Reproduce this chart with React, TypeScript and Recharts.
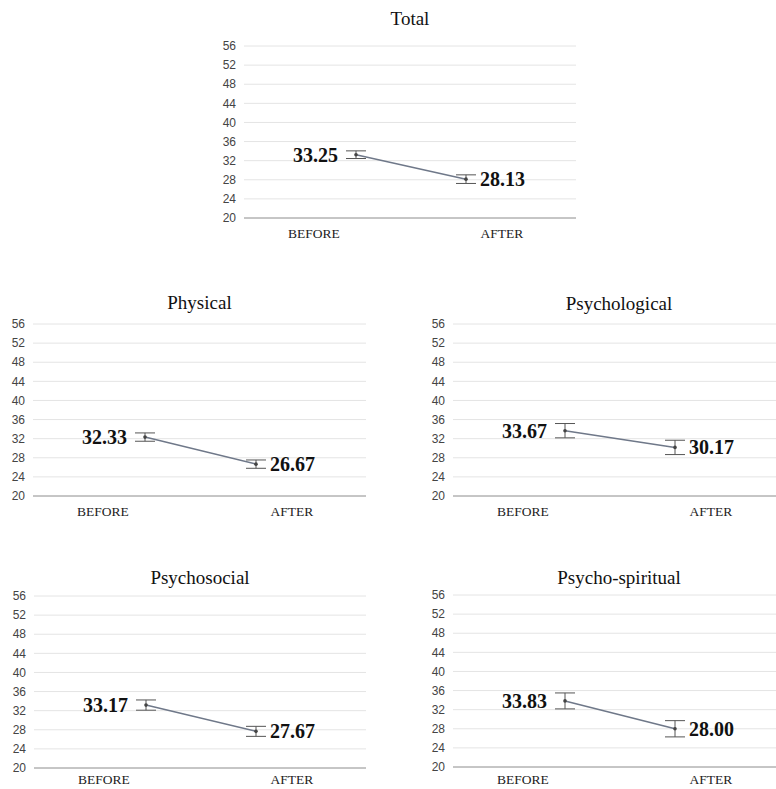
import React from 'react';
import { LineChart, Line, XAxis, YAxis, CartesianGrid, ErrorBar, LabelList } from 'recharts';

const categories = ['BEFORE', 'AFTER'];
const yTicks = [20, 24, 28, 32, 36, 40, 44, 48, 52, 56];

const totalValues = [33.25, 28.13];
const totalErrors = [0.8, 0.9];
const physicalValues = [32.33, 26.67];
const physicalErrors = [0.87, 0.87];
const psychologicalValues = [33.67, 30.17];
const psychologicalErrors = [1.5, 1.5];
const psychosocialValues = [33.17, 27.67];
const psychosocialErrors = [1.07, 1.05];
const spiritualValues = [33.83, 28.0];
const spiritualErrors = [1.67, 1.7];

const buildRows = (values: number[], errors: number[]) =>
  categories.map((c, i) => ({ label: c, value: values[i], err: errors[i] }));

const PLOT_H = 172;
const Y_W = 40;
const X_H = 30;
const M_TOP = 12;

const renderValueLabel = (props: any) => {
  const { x, y, value, index } = props;
  const first = index === 0;
  return (
    <text
      x={first ? x - 18 : x + 14}
      y={y}
      dy="0.35em"
      textAnchor={first ? 'end' : 'start'}
      fontFamily="'Liberation Serif', 'Times New Roman', serif"
      fontWeight="bold"
      fontSize={20}
      fill="#111"
    >
      {Number(value).toFixed(2)}
    </text>
  );
};

type PanelProps = {
  title: string;
  values: number[];
  errors: number[];
  plotLeft: number;
  plotTop: number;
  plotW: number;
  titleBaseline: number;
  labelGap?: number;
};

const Panel = ({ title, values, errors, plotLeft, plotTop, plotW, titleBaseline, labelGap = 10 }: PanelProps) => {
  const rows = buildRows(values, errors);
  return (
    <>
      <div
        style={{
          position: 'absolute',
          left: plotLeft,
          width: plotW,
          top: titleBaseline - 16,
          textAlign: 'center',
          fontFamily: "'Liberation Serif', 'Times New Roman', serif",
          fontSize: 19,
          lineHeight: '19px',
          color: '#111',
          whiteSpace: 'nowrap',
        }}
      >
        {title}
      </div>
      <div style={{ position: 'absolute', left: plotLeft - Y_W, top: plotTop - M_TOP }}>
        <LineChart
          width={Y_W + plotW}
          height={M_TOP + PLOT_H + X_H}
          data={rows}
          margin={{ top: M_TOP, right: 0, bottom: 0, left: 0 }}
        >
          <CartesianGrid xAxisId="lab" vertical={false} stroke="#e4e4e4" />
          <XAxis
            xAxisId="lab"
            dataKey="label"
            type="category"
            padding={{ left: 70, right: 74 }}
            height={X_H}
            tickSize={0}
            tickMargin={labelGap}
            axisLine={{ stroke: '#9a9a9a' }}
            tickLine={false}
            tick={{ fontFamily: "'Liberation Serif', 'Times New Roman', serif", fontSize: 13.5, fill: '#222' }}
          />
          <XAxis xAxisId="pt" dataKey="label" type="category" hide padding={{ left: 112, right: 110 }} />
          <YAxis
            domain={[20, 56]}
            ticks={yTicks}
            width={Y_W}
            axisLine={false}
            tickLine={false}
            tickSize={0}
            tickMargin={8}
            interval={0}
            tick={{ fontFamily: "'Liberation Sans', Arial, sans-serif", fontSize: 12, fill: '#444' }}
          />
          <Line
            xAxisId="pt"
            dataKey="value"
            stroke="#6f7889"
            strokeWidth={1.5}
            dot={{ r: 1.8, fill: '#444', stroke: '#444', strokeWidth: 0 }}
            isAnimationActive={false}
          >
            <ErrorBar dataKey="err" direction="y" width={10} stroke="#555" strokeWidth={1} />
            <LabelList dataKey="value" content={renderValueLabel} />
          </Line>
        </LineChart>
      </div>
    </>
  );
};

export default function App() {
  return (
    <div
      style={{
        position: 'absolute',
        left: 0,
        top: 0,
        width: 776,
        height: 789,
        overflow: 'hidden',
        background: '#fff',
      }}
    >
      <Panel title="Total" values={totalValues} errors={totalErrors} plotLeft={244} plotTop={46} plotW={332} titleBaseline={25} />
      <Panel title="Physical" values={physicalValues} errors={physicalErrors} plotLeft={33} plotTop={323.5} plotW={333} titleBaseline={309} />
      <Panel title="Psychological" values={psychologicalValues} errors={psychologicalErrors} plotLeft={453} plotTop={323.5} plotW={332} titleBaseline={310} />
      <Panel title="Psychosocial" values={psychosocialValues} errors={psychosocialErrors} plotLeft={34} plotTop={596} plotW={332} titleBaseline={584} labelGap={6} />
      <Panel title="Psycho-spiritual" values={spiritualValues} errors={spiritualErrors} plotLeft={453} plotTop={595} plotW={332} titleBaseline={584} labelGap={7} />
    </div>
  );
}
